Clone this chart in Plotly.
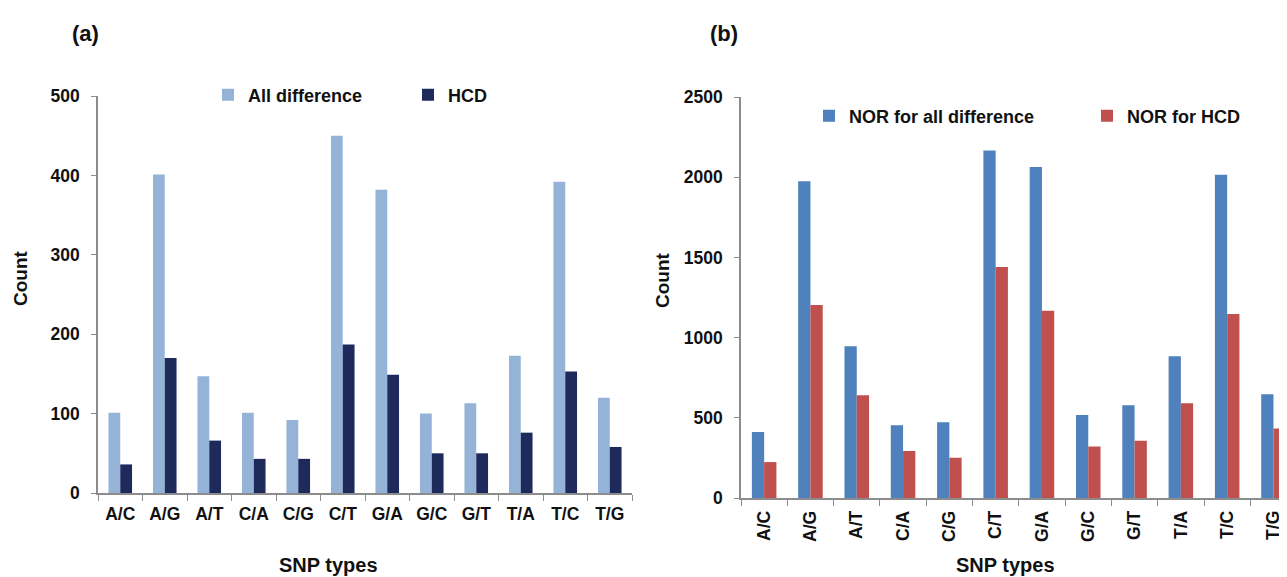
import plotly.graph_objects as go

snp_types = ["A/C", "A/G", "A/T", "C/A", "C/G", "C/T", "G/A", "G/C", "G/T", "T/A", "T/C", "T/G"]
all_difference = [101, 401, 147, 101, 92, 450, 382, 100, 113, 173, 392, 120]
hcd = [36, 170, 66, 43, 43, 187, 149, 50, 50, 76, 153, 58]
nor_all_difference = [411, 1974, 946, 454, 473, 2167, 2063, 517, 579, 884, 2015, 647]
nor_hcd = [224, 1204, 641, 293, 251, 1440, 1168, 321, 357, 591, 1147, 433]

FONT = "Liberation Sans"
AX = "#8c8c8c"
TXT = "#111111"
W, H = 1287, 577

fig = go.Figure()
fig.add_trace(go.Bar(x=snp_types, y=all_difference, name="All difference",
                     marker_color="#95B3D7", xaxis="x", yaxis="y", legend="legend"))
fig.add_trace(go.Bar(x=snp_types, y=hcd, name="HCD",
                     marker_color="#1F2A5C", xaxis="x", yaxis="y", legend="legend"))
fig.add_trace(go.Bar(x=snp_types, y=nor_all_difference, name="NOR for all difference",
                     marker_color="#4F81BD", xaxis="x2", yaxis="y2", legend="legend2"))
fig.add_trace(go.Bar(x=snp_types, y=nor_hcd, name="NOR for HCD",
                     marker_color="#C0504D", xaxis="x2", yaxis="y2", legend="legend2"))

tickfont = dict(family=FONT, size=17.5, color=TXT, weight="bold")
common_x = dict(type="category", showline=True, linecolor=AX, linewidth=1.5,
                ticks="outside", tickson="boundaries", ticklen=6, tickcolor=AX,
                tickfont=tickfont, showgrid=False, zeroline=False, automargin=False,
                ticklabelstandoff=4)
common_y = dict(showline=True, linecolor=AX, linewidth=1.5, ticks="outside",
                ticklen=5, tickcolor=AX, tickfont=tickfont, showgrid=False,
                zeroline=False, ticklabelstandoff=8, automargin=False)

def ann(text, px, py, size, angle=0):
    return dict(text=text, x=px / W, y=1 - py / H, xref="paper", yref="paper",
                showarrow=False, textangle=angle, xanchor="center", yanchor="middle",
                font=dict(family=FONT, size=size, color=TXT, weight="bold"))

fig.update_layout(
    template="none",
    width=W, height=H,
    margin=dict(l=0, r=0, t=0, b=0, autoexpand=False),
    paper_bgcolor="white", plot_bgcolor="white",
    barmode="group", bargap=0.47, bargroupgap=0.0,
    showlegend=True,
    xaxis=dict(common_x, domain=[90 / W, 624 / W], anchor="y", range=[-0.5, 11.5]),
    yaxis=dict(common_y, domain=[1 - 485 / H, 1 - 88 / H], anchor="x", range=[0, 500],
               tickvals=[0, 100, 200, 300, 400, 500]),
    xaxis2=dict(common_x, domain=[733 / W, 1.0], anchor="y2", range=[-0.5, 11.465],
                tickangle=-90),
    yaxis2=dict(common_y, domain=[1 - 490 / H, 1 - 89 / H], anchor="x2", range=[0, 2500],
                tickvals=[0, 500, 1000, 1500, 2000, 2500]),
    legend=dict(orientation="h", x=200 / W, y=1 - 87 / H, xanchor="left", yanchor="middle",
                font=dict(family=FONT, size=18, color=TXT, weight="bold"),
                bgcolor="rgba(0,0,0,0)", borderwidth=0,
                entrywidth=155, entrywidthmode="pixels", itemwidth=30,
                traceorder="normal"),
    legend2=dict(orientation="h", x=801 / W, y=1 - 108 / H, xanchor="left", yanchor="middle",
                 font=dict(family=FONT, size=18, color=TXT, weight="bold"),
                 bgcolor="rgba(0,0,0,0)", borderwidth=0,
                 entrywidth=233, entrywidthmode="pixels", itemwidth=30,
                 traceorder="normal"),
    annotations=[
        ann("(a)", 77, 26, 22),
        ann("(b)", 716, 26, 22),
        ann("Count", 12, 270, 19, -90),
        ann("Count", 654, 272, 19, -90),
        ann("SNP types", 320, 557, 20),
        ann("SNP types", 997, 557, 20),
    ],
)

fig.write_html("out.html")
